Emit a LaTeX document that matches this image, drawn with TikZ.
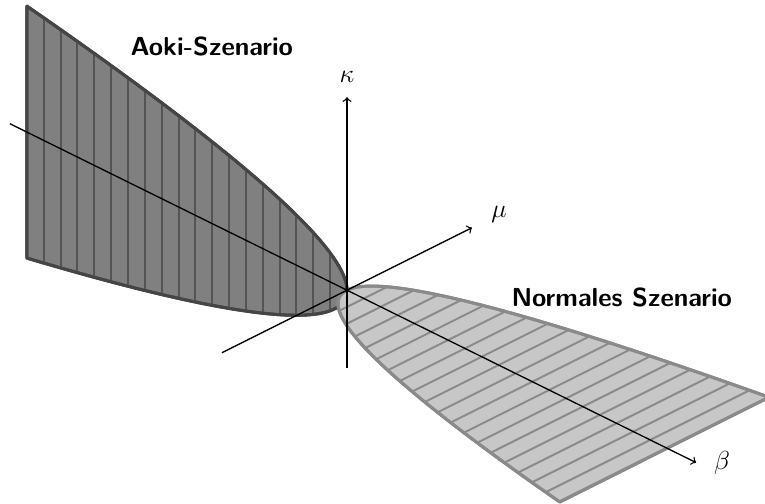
\documentclass[tikz,border=0pt]{standalone}
\begin{document}
\begin{tikzpicture}[
            x={(1.62cm,-0.80cm)}, y={(1.62cm,0.81cm)}, z={(0cm,1.62cm)},
                aoki/.style={fill=black!50, draw=black!73, line width=1.4pt, line join=round},
                aokihatch/.style={draw=black!67, line width=0.9pt},
                normal/.style={fill=black!22, draw=black!46, line width=1.4pt, line join=round},
                normalhatch/.style={draw=black!46, line width=0.9pt},
                axis/.style={semithick, ->},
                axislabel/.style={font=\large},
                regionlabel/.style={font=\sffamily\bfseries\large}
            ]
              \useasboundingbox (-5.62cm,-3.45cm) rectangle (6.77cm,4.70cm);

              % Aoki-Szenario (beta < 0), hatched along kappa
              \fill[aoki] plot[domain=1.7889:0, samples=60] ({-\x*\x}, 0, {0.704*\x})
                  -- plot[domain=0:1.7889, samples=60] ({-\x*\x}, 0, {-0.704*\x}) -- cycle;
              \foreach \k in {1,...,18}
                  \draw[aokihatch] ({-3.2+\k*0.16842}, 0, {-0.704*sqrt(3.2-\k*0.16842)})
                      -- ({-3.2+\k*0.16842}, 0, {0.704*sqrt(3.2-\k*0.16842)});
              \draw[aoki, fill=none] plot[domain=1.7889:0, samples=60] ({-\x*\x}, 0, {0.704*\x})
                  -- plot[domain=0:1.7889, samples=60] ({-\x*\x}, 0, {-0.704*\x}) -- cycle;

              % normales Szenario (beta > 0), hatched along mu
              \fill[normal] plot[domain=0:1.7889, samples=60] ({\x*\x}, {0.57*\x}, 0)
                  -- plot[domain=1.7889:0, samples=60] ({\x*\x}, {-0.6*\x}, 0) -- cycle;
              \foreach \k in {1,...,18}
                  \draw[normalhatch] ({\k*0.16842}, {-0.6*sqrt(\k*0.16842)}, 0)
                      -- ({\k*0.16842}, {0.57*sqrt(\k*0.16842)}, 0);
              \draw[normal, fill=none] plot[domain=0:1.7889, samples=60] ({\x*\x}, {0.57*\x}, 0)
                  -- plot[domain=1.7889:0, samples=60] ({\x*\x}, {-0.6*\x}, 0) -- cycle;

              % axes
              \coordinate (beta0) at (-3.37,0,0);
              \coordinate (beta1) at (3.49,0,0);
              \coordinate (mu0) at (0,-1.25,0);
              \coordinate (mu1) at (0,1.25,0);
              \coordinate (kappa0) at (0,0,-0.78);
              \coordinate (kappa1) at (0,0,1.93);
              \draw[axis] (beta0) -- (beta1);
              \draw[axis] (mu0) -- (mu1);
              \draw[axis] (kappa0) -- (kappa1);

              \node[axislabel] (betalabel) at (3.62,0.13,0) {$\beta$};
              \node[axislabel] (mulabel) at (0,1.52,0) {$\mu$};
              \node[axislabel] (kappalabel) at (0,0,2.13) {$\kappa$};

              \node[regionlabel] (aokitext) at (-2.19cm,3.94cm) {Aoki-Szenario};
              \node[regionlabel] (normaltext) at (4.45cm,-0.11cm) {Normales Szenario};
            \end{tikzpicture}
\end{document}
